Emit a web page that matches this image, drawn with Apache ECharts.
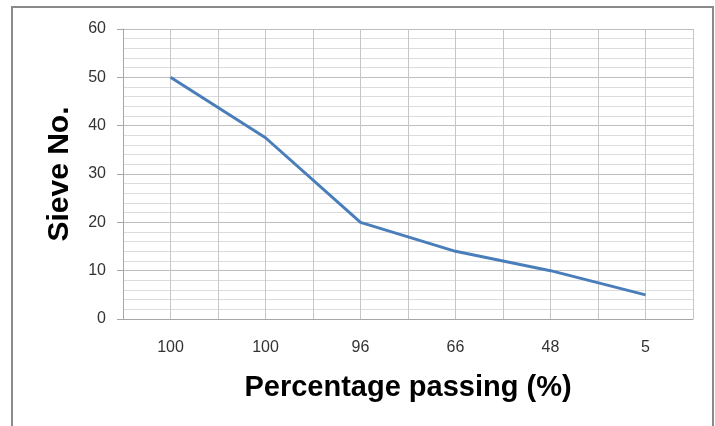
<!DOCTYPE html>
<html>
<head>
<meta charset="utf-8">
<script src="https://cdn.jsdelivr.net/npm/echarts@6/dist/echarts.min.js"></script>
<style>
html,body{margin:0;padding:0;background:#fff;}
#chart{width:715px;height:426px;}
</style>
</head>
<body>
<div id="chart"></div>
<script>
const categories = ['100', '100', '96', '66', '48', '5'];
const sieveValues = [50, 37.5, 20, 14, 10, 5];
const yTicks = [0, 10, 20, 30, 40, 50, 60];
const xTitle = 'Percentage passing (%)';
const yTitle = 'Sieve No.';

const chart = echarts.init(document.getElementById('chart'), null, {renderer: 'canvas'});
const font = '"Liberation Sans", Arial, sans-serif';
chart.setOption({
  animation: false,
  backgroundColor: '#ffffff',
  graphic: [{
    type: 'rect',
    shape: {x: 12, y: 7, width: 701, height: 440},
    style: {fill: 'none', stroke: '#8a8a8a', lineWidth: 2},
    silent: true
  }],
  grid: {left: 123, top: 29, right: 22, bottom: 107, containLabel: false},
  xAxis: [{
    type: 'category',
    data: categories,
    boundaryGap: true,
    axisLine: {show: true, lineStyle: {color: '#a6a6a6', width: 1}},
    axisTick: {show: false},
    axisLabel: {color: '#333333', fontSize: 16, fontFamily: font, margin: 21},
    splitLine: {show: false},
    name: xTitle,
    nameLocation: 'middle',
    nameGap: 54,
    nameTextStyle: {color: '#000', fontSize: 29, fontWeight: 'bold', fontFamily: font}
  }, {
    type: 'value',
    min: 0, max: 12, interval: 1,
    position: 'bottom',
    axisLine: {show: false},
    axisTick: {show: false},
    axisLabel: {show: false},
    splitLine: {show: true, lineStyle: {color: '#c6c6c6', width: 1}}
  }],
  yAxis: {
    type: 'value',
    min: yTicks[0], max: yTicks[yTicks.length - 1], interval: 10,
    axisLine: {show: true, lineStyle: {color: '#a6a6a6', width: 1}},
    axisTick: {show: true, length: 6, inside: false, lineStyle: {color: '#a6a6a6'}},
    axisLabel: {color: '#333333', fontSize: 16, fontFamily: font, margin: 17},
    splitLine: {show: true, lineStyle: {color: '#bdbdbd', width: 1}},
    minorTick: {show: false, splitNumber: 5},
    minorSplitLine: {show: true, lineStyle: {color: '#dcdcdc', width: 1}},
    name: yTitle,
    nameLocation: 'middle',
    nameGap: 48,
    nameRotate: 90,
    nameTextStyle: {color: '#000', fontSize: 30, fontWeight: 'bold', fontFamily: font}
  },
  series: [{
    type: 'line',
    xAxisIndex: 0,
    data: sieveValues,
    symbol: 'none',
    lineStyle: {color: '#4a7ebb', width: 3},
    itemStyle: {color: '#4a7ebb'}
  }]
});
</script>
</body>
</html>
